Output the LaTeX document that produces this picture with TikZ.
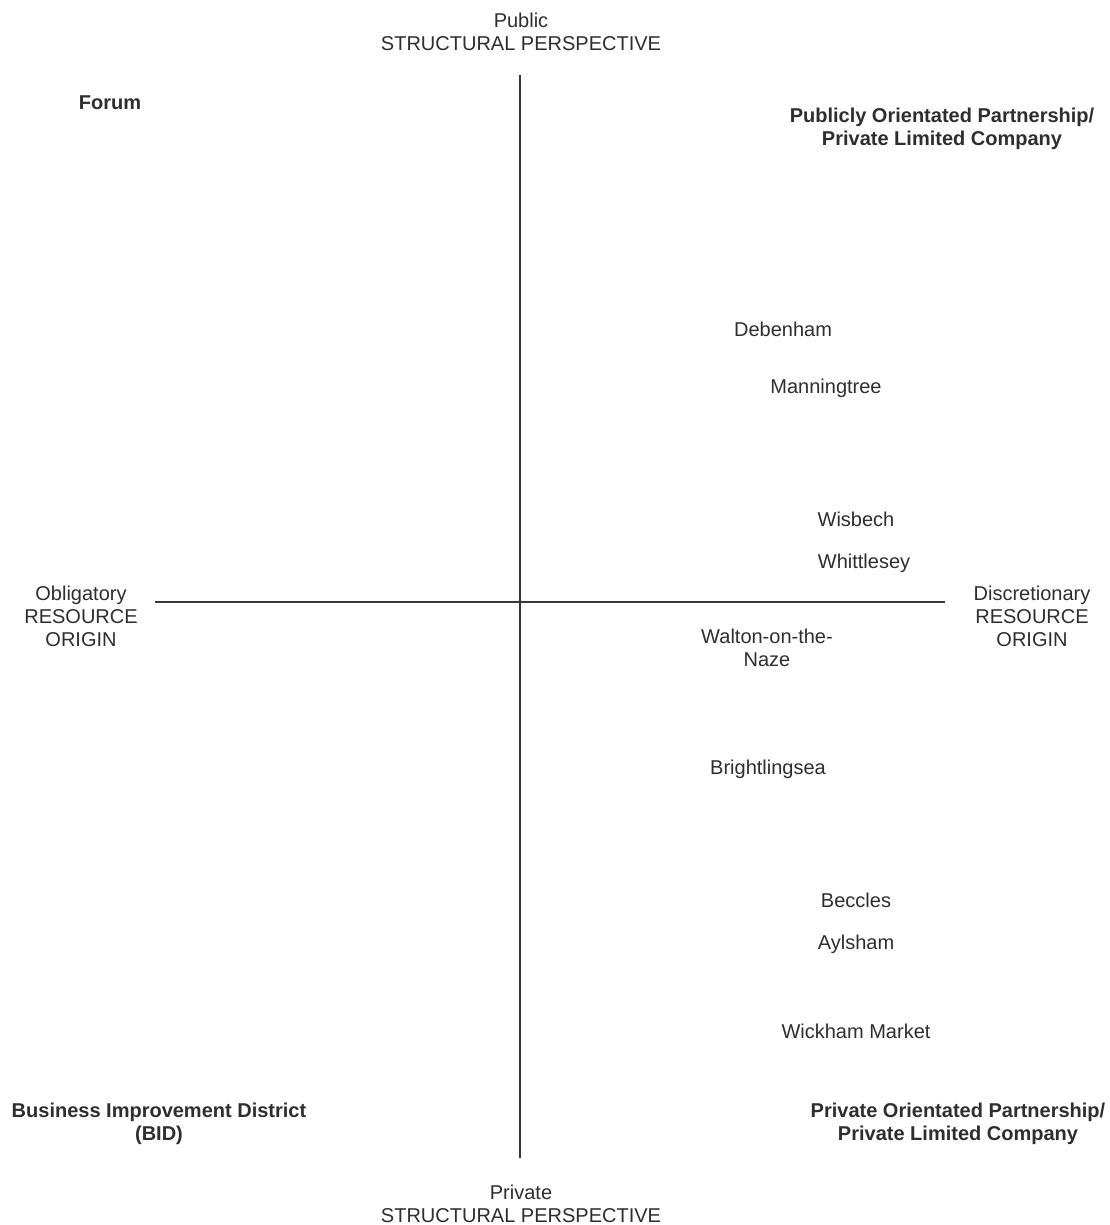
\documentclass[tikz,border=0pt]{standalone}
\usepackage{fontspec}
\setmainfont{Liberation Sans}
\begin{document}
\begin{tikzpicture}[x=1pt,y=-1pt,
  lbl/.style={inner sep=0pt, align=center, text=black!82,
    font=\fontsize{20}{23}\selectfont},
  blbl/.style={lbl, font=\fontsize{20}{23.5}\selectfont\bfseries},
  axis/.style={draw=black!78, line width=1.4pt}]
\useasboundingbox[fill=white] (0,0) rectangle (1109,1225);

% axis end points
\coordinate (top) at (520,75);
\coordinate (bottom) at (520,1158);
\coordinate (left) at (155,602);
\coordinate (right) at (945,602);
\draw[axis] (top) -- (bottom);
\draw[axis] (left) -- (right);

% axis captions
\node[lbl] (pub) at (521,32) {Public\\STRUCTURAL PERSPECTIVE};
\node[lbl] (priv) at (521,1204) {Private\\STRUCTURAL PERSPECTIVE};
\node[lbl] (obl) at (81,616) {Obligatory\\RESOURCE\\ORIGIN};
\node[lbl] (disc) at (1032,616) {Discretionary\\RESOURCE\\ORIGIN};

% quadrant types
\node[blbl] (forum) at (110,103) {Forum};
\node[blbl] (pop) at (942,129) {Publicly Orientated Partnership/\\Private Limited Company};
\node[blbl] (bid) at (159,1124) {Business Improvement District\\(BID)};
\node[blbl] (prop) at (958,1124) {Private Orientated Partnership/\\Private Limited Company};

% towns
\node[lbl] (deb) at (783,329) {Debenham};
\node[lbl] (man) at (826,388) {Manningtree};
\node[lbl] (wis) at (856,519) {Wisbech};
\node[lbl] (whi) at (864,563) {Whittlesey};
\node[lbl] (wal) at (767,648) {Walton-on-the-\\Naze};
\node[lbl] (bri) at (768,769) {Brightlingsea};
\node[lbl] (bec) at (856,900) {Beccles};
\node[lbl] (ayl) at (856,944) {Aylsham};
\node[lbl] (wic) at (856,1031) {Wickham Market};
\end{tikzpicture}
\end{document}
